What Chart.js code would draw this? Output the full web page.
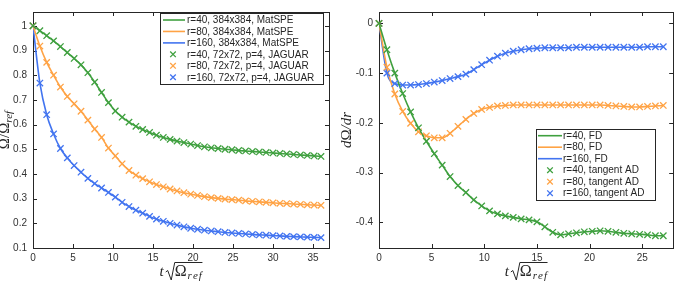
<!DOCTYPE html>
<html>
<head>
<meta charset="utf-8">
<script src="https://cdn.jsdelivr.net/npm/chart.js@4.4.0/dist/chart.umd.min.js"></script>
<style>
  html, body { margin: 0; padding: 0; background: #fff; }
  .panel { position: absolute; top: 0; height: 282px; }
  #p1 { left: 0; width: 340px; }
  #p2 { left: 340px; width: 339px; }
</style>
</head>
<body>
<div class="panel" id="p1"><canvas id="c1" width="340" height="282"></canvas></div>
<div class="panel" id="p2"><canvas id="c2" width="339" height="282"></canvas></div>
<script>
// left panel: Omega / Omega_ref over time
const tLeft = [0, 0.86, 1.71, 2.57, 3.43, 4.29, 5.14, 6, 6.86, 7.71, 8.57, 9.43, 10.29, 11.14, 12, 12.86,
  13.71, 14.57, 15.43, 16.29, 17.14, 18, 18.86, 19.71, 20.57, 21.43, 22.29, 23.14, 24, 24.86, 25.71,
  26.57, 27.43, 28.29, 29.14, 30, 30.86, 31.71, 32.57, 33.43, 34.29, 35.14, 36];
const omegaR40 = [1.0, 0.980, 0.960, 0.939, 0.916, 0.892, 0.868, 0.842, 0.810, 0.772, 0.730, 0.689, 0.655,
  0.630, 0.610, 0.593, 0.580, 0.568, 0.557, 0.548, 0.540, 0.533, 0.527, 0.521, 0.515, 0.510, 0.506, 0.503,
  0.500, 0.498, 0.495, 0.493, 0.491, 0.489, 0.487, 0.485, 0.483, 0.481, 0.479, 0.477, 0.475, 0.473, 0.471];
const omegaR80 = [1.0, 0.918, 0.852, 0.800, 0.752, 0.714, 0.684, 0.654, 0.618, 0.582, 0.548, 0.505, 0.473,
  0.441, 0.414, 0.395, 0.381, 0.368, 0.357, 0.348, 0.339, 0.331, 0.324, 0.318, 0.313, 0.308, 0.304, 0.301,
  0.298, 0.296, 0.294, 0.291, 0.289, 0.287, 0.285, 0.283, 0.281, 0.280, 0.278, 0.277, 0.275, 0.274, 0.273];
const omegaR160 = [1.0, 0.768, 0.640, 0.562, 0.503, 0.465, 0.434, 0.407, 0.382, 0.361, 0.343, 0.325, 0.306,
  0.285, 0.268, 0.253, 0.241, 0.228, 0.217, 0.208, 0.200, 0.193, 0.186, 0.180, 0.176, 0.172, 0.169, 0.166,
  0.163, 0.161, 0.159, 0.157, 0.155, 0.153, 0.152, 0.150, 0.149, 0.147, 0.146, 0.145, 0.144, 0.143, 0.142];
const leftXTicks = [0, 5, 10, 15, 20, 25, 30, 35];
const leftYTicks = [0.1, 0.2, 0.3, 0.4, 0.5, 0.6, 0.7, 0.8, 0.9, 1];
const leftLabels = ['r=40, 384x384, MatSPE', 'r=80, 384x384, MatSPE', 'r=160, 384x384, MatSPE',
  'r=40, 72x72, p=4, JAGUAR', 'r=80, 72x72, p=4, JAGUAR', 'r=160, 72x72, p=4, JAGUAR'];

// right panel: dOmega/dr over time
const tRight = [0, 0.75, 1.5, 2.25, 3, 3.75, 4.5, 5.25, 6, 6.75, 7.5, 8.25, 9, 9.75, 10.5, 11.25, 12, 12.75,
  13.5, 14.25, 15, 15.75, 16.5, 17.25, 18, 18.75, 19.5, 20.25, 21, 21.75, 22.5, 23.25, 24, 24.75, 25.5, 26.25, 27];
const dOmegaR40 = [0, -0.053, -0.100, -0.141, -0.178, -0.210, -0.237, -0.262, -0.285, -0.308, -0.326, -0.340,
  -0.355, -0.367, -0.377, -0.383, -0.387, -0.390, -0.393, -0.395, -0.399, -0.409, -0.420, -0.425, -0.423,
  -0.421, -0.419, -0.418, -0.417, -0.418, -0.420, -0.422, -0.423, -0.424, -0.425, -0.427, -0.427];
const dOmegaR80 = [0, -0.088, -0.142, -0.177, -0.201, -0.218, -0.226, -0.230, -0.230, -0.221, -0.207, -0.193,
  -0.181, -0.173, -0.169, -0.166, -0.165, -0.164, -0.164, -0.164, -0.164, -0.164, -0.164, -0.164, -0.164,
  -0.164, -0.164, -0.164, -0.164, -0.165, -0.166, -0.167, -0.168, -0.168, -0.167, -0.166, -0.165];
const dOmegaR160 = [0, -0.100, -0.121, -0.124, -0.124, -0.123, -0.121, -0.118, -0.115, -0.111, -0.107, -0.102,
  -0.093, -0.083, -0.074, -0.066, -0.060, -0.056, -0.053, -0.051, -0.050, -0.049, -0.049, -0.049, -0.049,
  -0.048, -0.048, -0.048, -0.048, -0.048, -0.048, -0.048, -0.048, -0.048, -0.047, -0.047, -0.047];
const rightXTicks = [0, 5, 10, 15, 20, 25];
const rightYTicks = [-0.4, -0.3, -0.2, -0.1, 0];
const rightLabels = ['r=40, FD', 'r=80, FD', 'r=160, FD', 'r=40, tangent AD', 'r=80, tangent AD', 'r=160, tangent AD'];

const GREEN = '#3fa03f', ORANGE = '#ffa345', BLUE = '#4274f0';
const INK = '#262626';
const TICK_FONT = { family: '"Liberation Sans", Arial, sans-serif', size: 10 };
const SERIF = '"Liberation Serif", "Times New Roman", serif';

const pts = (xs, ys) => xs.map((x, i) => ({ x, y: ys[i] }));

function buildDatasets(ts, series, labels) {
  const colors = [GREEN, ORANGE, BLUE];
  const lines = series.map((s, i) => ({
    label: labels[i], data: pts(ts, s), borderColor: colors[i], backgroundColor: colors[i],
    borderWidth: 1.6, pointRadius: 0, cubicInterpolationMode: 'monotone', order: 2
  }));
  const marks = series.map((s, i) => ({
    label: labels[i + 3], data: pts(ts, s), borderColor: colors[i], backgroundColor: colors[i],
    showLine: false, pointStyle: 'crossRot', pointRadius: 4.5, pointBorderWidth: 1.3, clip: false, order: 1
  }));
  return lines.concat(marks);
}

// box + inward ticks on all four sides
const framePlugin = {
  id: 'frame',
  beforeDatasetsDraw(chart) {
    const { ctx, chartArea: a, scales } = chart;
    ctx.save();
    ctx.strokeStyle = INK;
    ctx.lineWidth = 1;
    ctx.strokeRect(Math.round(a.left) + 0.5, Math.round(a.top) + 0.5,
      Math.round(a.right - a.left), Math.round(a.bottom - a.top));
    ctx.beginPath();
    scales.x.ticks.forEach(t => {
      const px = Math.round(scales.x.getPixelForValue(t.value)) + 0.5;
      ctx.moveTo(px, a.bottom); ctx.lineTo(px, a.bottom - 4);
      ctx.moveTo(px, a.top); ctx.lineTo(px, a.top + 4);
    });
    scales.y.ticks.forEach(t => {
      const py = Math.round(scales.y.getPixelForValue(t.value)) + 0.5;
      ctx.moveTo(a.left, py); ctx.lineTo(a.left + 4, py);
      ctx.moveTo(a.right, py); ctx.lineTo(a.right - 4, py);
    });
    ctx.stroke();
    ctx.restore();
  }
};

function boxLegend(box) {
  return {
    id: 'boxLegend',
    afterDraw(chart) {
      const ctx = chart.ctx;
      ctx.save();
      ctx.fillStyle = '#fff';
      ctx.fillRect(box.x, box.y, box.w, box.h);
      ctx.strokeStyle = INK;
      ctx.lineWidth = 1;
      ctx.strokeRect(box.x + 0.5, box.y + 0.5, box.w, box.h);
      ctx.font = '10px "Liberation Sans", Arial, sans-serif';
      ctx.textBaseline = 'middle';
      chart.data.datasets.forEach((ds, i) => {
        const y = box.y + box.first + i * box.dy;
        ctx.strokeStyle = ds.borderColor;
        if (ds.showLine === false) {
          const cx = box.x + box.mark, r = 2.8;
          ctx.lineWidth = 1.3;
          ctx.beginPath();
          ctx.moveTo(cx - r, y - r); ctx.lineTo(cx + r, y + r);
          ctx.moveTo(cx - r, y + r); ctx.lineTo(cx + r, y - r);
          ctx.stroke();
        } else {
          ctx.lineWidth = 1.6;
          ctx.beginPath();
          ctx.moveTo(box.x + box.l0, y); ctx.lineTo(box.x + box.l1, y);
          ctx.stroke();
        }
        ctx.fillStyle = INK;
        ctx.fillText(ds.label, box.x + box.text, y + 0.5);
      });
      ctx.restore();
    }
  };
}

// t sqrt(Omega_ref) under the x axis
function drawSqrtTitle(ctx, cx, base) {
  ctx.save();
  ctx.fillStyle = INK;
  ctx.strokeStyle = INK;
  ctx.textBaseline = 'alphabetic';
  const fT = 'italic 15px ' + SERIF;
  const fO = '16px ' + SERIF;
  const fS = 'italic 11px ' + SERIF;
  ctx.font = fT; const wt = ctx.measureText('t').width;
  ctx.font = fO; const wo = ctx.measureText('Ω').width;
  ctx.font = fS; const ws = ctx.measureText('ref').width + 2;
  const total = wt + 2 + 9 + wo + 1 + ws + 1;
  let x = cx - total / 2;
  ctx.font = fT; ctx.fillText('t', x, base); x += wt + 2;
  ctx.lineWidth = 1;
  ctx.beginPath();
  ctx.moveTo(x, base - 4); ctx.lineTo(x + 2, base - 5.5);
  ctx.lineTo(x + 5.5, base + 4); ctx.lineTo(x + 9, base - 13.5);
  ctx.lineTo(x + 9 + wo + 1 + ws + 1, base - 13.5);
  ctx.stroke();
  x += 9;
  ctx.font = fO; ctx.fillText('Ω', x, base); x += wo + 1;
  ctx.font = fS;
  ['r', 'e', 'f'].forEach(ch => { ctx.fillText(ch, x, base + 3); x += ctx.measureText(ch).width + 1; });
  ctx.restore();
}

function drawRotated(ctx, x, y, parts) {
  ctx.save();
  ctx.translate(x, y);
  ctx.rotate(-Math.PI / 2);
  ctx.fillStyle = INK;
  ctx.textBaseline = 'alphabetic';
  let total = 0;
  parts.forEach(p => { ctx.font = p.font; total += ctx.measureText(p.text).width; });
  let cx = -total / 2;
  parts.forEach(p => {
    ctx.font = p.font;
    ctx.fillText(p.text, cx, p.dy || 0);
    cx += ctx.measureText(p.text).width;
  });
  ctx.restore();
}

function titlesPlugin(yParts, yBaseX) {
  return {
    id: 'titles',
    afterDraw(chart) {
      const a = chart.chartArea;
      drawSqrtTitle(chart.ctx, (a.left + a.right) / 2, 276);
      drawRotated(chart.ctx, yBaseX, (a.top + a.bottom) / 2, yParts);
    }
  };
}

const fmt = v => String(+v.toFixed(2));

function makeOptions(xMax, yMin, yMax, xTicks, yTicks, yWidth, padRight) {
  return {
    responsive: false,
    animation: false,
    layout: { padding: { top: 6, right: padRight, left: 0, bottom: 0 } },
    plugins: { legend: { display: false }, tooltip: { enabled: false } },
    scales: {
      x: {
        type: 'linear', min: 0, max: xMax,
        afterBuildTicks: s => { s.ticks = xTicks.map(v => ({ value: v })); },
        afterFit: s => { s.height = 34; },
        grid: { display: false, drawTicks: false }, border: { display: false },
        ticks: { font: TICK_FONT, color: '#333', padding: 4, maxRotation: 0, callback: fmt }
      },
      y: {
        type: 'linear', min: yMin, max: yMax,
        afterBuildTicks: s => { s.ticks = yTicks.map(v => ({ value: v })); },
        afterFit: s => { s.width = yWidth; },
        grid: { display: false, drawTicks: false }, border: { display: false },
        ticks: { font: TICK_FONT, color: '#333', padding: 6, callback: fmt }
      }
    }
  };
}

new Chart(document.getElementById('c1'), {
  type: 'line',
  data: { datasets: buildDatasets(tLeft, [omegaR40, omegaR80, omegaR160], leftLabels) },
  options: makeOptions(37, 0.1, 1.056, leftXTicks, leftYTicks, 33, 11),
  plugins: [framePlugin,
    boxLegend({ x: 160, y: 13, w: 163, h: 71, first: 7, dy: 11.45, l0: 3, l1: 25, mark: 13, text: 27 }),
    titlesPlugin([
      { text: 'Ω/Ω', font: '15px ' + SERIF },
      { text: 'ref', font: 'italic 11px ' + SERIF, dy: 3 }
    ], 9)]
});

new Chart(document.getElementById('c2'), {
  type: 'line',
  data: { datasets: buildDatasets(tRight, [dOmegaR40, dOmegaR80, dOmegaR160], rightLabels) },
  options: makeOptions(27.94, -0.4516, 0.0229, rightXTicks, rightYTicks, 39, 5),
  plugins: [framePlugin,
    boxLegend({ x: 196, y: 129, w: 119, h: 71, first: 6.7, dy: 11.5, l0: 2, l1: 26, mark: 14, text: 27 }),
    titlesPlugin([
      { text: 'd', font: 'italic 15px ' + SERIF },
      { text: 'Ω', font: '15px ' + SERIF },
      { text: '/dr', font: 'italic 15px ' + SERIF }
    ], 11)]
});
</script>
</body>
</html>
